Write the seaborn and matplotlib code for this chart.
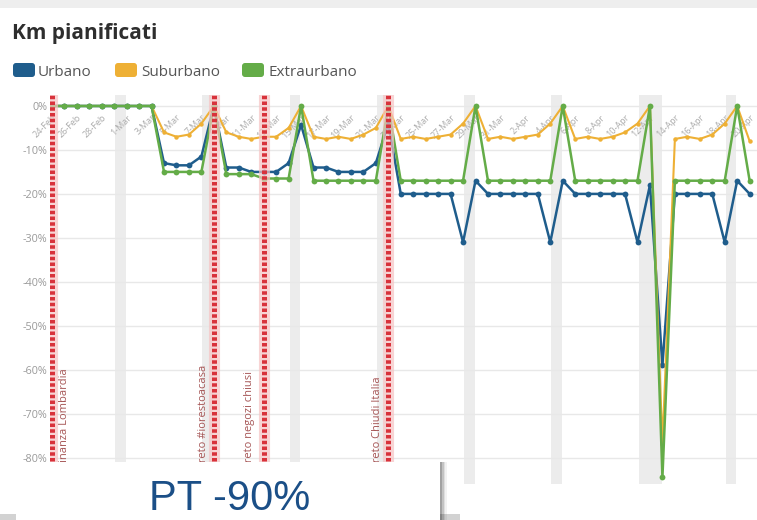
import numpy as np
import pandas as pd
import matplotlib
matplotlib.use("Agg")
import matplotlib.pyplot as plt
import seaborn as sns
from matplotlib.patches import Rectangle, FancyBboxPatch
from matplotlib.transforms import IdentityTransform

# ---------------- data ----------------
dates = pd.date_range("2020-02-24", "2020-04-20", freq="D")
series = ["Urbano", "Suburbano", "Extraurbano"]
colors = ["#1f5d8c", "#eeb035", "#64ac48"]

urbano = [0, 0, 0, 0, 0, 0, 0, 0, 0,
          -13, -13.5, -13.5, -11.5, 0,
          -14, -14, -15, -15, -15, -13, -4.3,
          -14, -14, -15, -15, -15, -13, -4,
          -20, -20, -20, -20, -20, -31, -17,
          -20, -20, -20, -20, -20, -31, -17,
          -20, -20, -20, -20, -20, -31, -18,
          -59, -20, -20, -20, -20, -31, -17,
          -20]
suburbano = [0, 0, 0, 0, 0, 0, 0, 0, 0,
             -6, -7, -6.5, -4, 0,
             -6, -7, -7.5, -7, -7, -5, 0,
             -7, -7.5, -7, -7.5, -6.5, -5, 0,
             -7.5, -7, -7.5, -7, -6.5, -4, 0,
             -7.5, -7, -7.5, -7, -6.5, -4, 0,
             -7.5, -7, -7.5, -7, -6, -4, 0,
             -77, -7.5, -7, -7.5, -6.5, -4, 0,
             -8]
extraurbano = [0, 0, 0, 0, 0, 0, 0, 0, 0,
               -15, -15, -15, -15, 0,
               -15.5, -15.5, -15.5, -16.5, -16.5, -16.5, 0,
               -17, -17, -17, -17, -17, -17, 0,
               -17, -17, -17, -17, -17, -17, 0,
               -17, -17, -17, -17, -17, -17, 0,
               -17, -17, -17, -17, -17, -17, 0,
               -84.5, -17, -17, -17, -17, -17, 0,
               -17]

y_ticks = [0, -10, -20, -30, -40, -50, -60, -70, -80]
y_tick_labels = ["0%", "-10%", "-20%", "-30%", "-40%", "-50%", "-60%", "-70%", "-80%"]

event_days = [0, 13, 17, 27]
event_labels = ["Ordinanza Lombardia", "Decreto #iorestoacasa",
                "Decreto negozi chiusi", "Decreto Chiudi Italia"]

weekend_centers = [5.5, 12.5, 19.5, 26.5, 33.5, 40.5, 54.5]
easter_span = (47.1, 49.0)

date_labels = [f"{d.day}-{d.strftime('%b')}" for d in dates]

# ---------------- figure ----------------
sns.set_style("white")
plt.rcParams["font.family"] = ["Open Sans", "DejaVu Sans"]

W, H = 757, 520
fig = plt.figure(figsize=(W / 100, H / 100), dpi=100)
fig.patch.set_facecolor("white")

ax = fig.add_axes([50 / W, 36 / H, 706.5 / W, 389 / H])

days = np.arange(len(dates))
df = pd.DataFrame({
    "giorno": np.tile(days, 3),
    "valore": urbano + suburbano + extraurbano,
    "serie": ["Urbano"] * len(days) + ["Suburbano"] * len(days) + ["Extraurbano"] * len(days),
})

# weekend bands
for c in weekend_centers:
    ax.axvspan(c - 0.42, c + 0.42, color="#ececec", zorder=0, lw=0)
ax.axvspan(*easter_span, color="#ececec", zorder=0, lw=0)

# date labels at the top, inside
for d in range(0, len(dates), 2):
    ax.text(d, -1.6, date_labels[d], rotation=45, ha="right", va="top",
            rotation_mode="anchor", fontsize=6.5, color="#ababab",
            zorder=1, clip_on=False)

sns.lineplot(data=df, x="giorno", y="valore", hue="serie", hue_order=series,
             palette=dict(zip(series, colors)), marker="o", markersize=4.2,
             markeredgewidth=0, linewidth=1.8, legend=False, ax=ax, zorder=3)
# slightly lighter, thinner orange line as in the reference
for ln in ax.get_lines():
    if matplotlib.colors.to_hex(ln.get_color()) == colors[1]:
        ln.set_linewidth(1.5)
        ln.set_markersize(3.2)

# event lines
offsets = [1.0, -0.85, -1.1, -0.9]
for d, lab, off in zip(event_days, event_labels, offsets):
    ax.axvline(d, color="#f6c3c3", lw=8, alpha=0.7, zorder=4)
    ax.axvline(d, color="#d8323b", lw=3.6, dashes=(0.7, 0.45), zorder=5)
    ax.text(d + off, -85.5, lab, rotation=90, ha="center", va="bottom",
            fontsize=8, color="#a65656", zorder=5)

ax.set_xlim(-0.15, 56.55)
ax.set_ylim(-86, 2.5)
ax.set_yticks(y_ticks)
ax.set_yticklabels(y_tick_labels)
ax.set_xticks([])
ax.set_xlabel("")
ax.set_ylabel("")
ax.tick_params(axis="y", length=0, pad=2, labelsize=7.8, labelcolor="#9a9a9a")
for s in ax.spines.values():
    s.set_visible(False)
ax.grid(axis="y", color="#e8e8e8", lw=1)
ax.set_axisbelow(True)

# ---------------- header ----------------
fig.add_artist(Rectangle((0, 1 - 8 / H), 1, 8 / H, transform=fig.transFigure,
                         fc="#eeeeee", ec="none", zorder=1))
fig.text(12 / W, 1 - 39 / H, "Km pianificati", ha="left", va="baseline",
         fontsize=15, fontweight="bold", color="#2e2e2e")

leg_items = [(13, 38, "Urbano"), (115, 141, "Suburbano"), (242, 268, "Extraurbano")]
for (x0, xt, lab), col in zip(leg_items, colors):
    fig.add_artist(FancyBboxPatch((x0, H - 77), 22, 14,
                                  boxstyle="round,pad=0,rounding_size=3",
                                  transform=IdentityTransform(), fc=col, ec="none"))
    fig.text(xt / W, 1 - 76 / H, lab, ha="left", va="baseline",
             fontsize=11, color="#555555")

# ---------------- overlay box ----------------
fig.add_artist(Rectangle((0, 0), 460 / W, 6 / H, transform=fig.transFigure,
                         fc="#d2d2d2", ec="none", zorder=18))
for i, a in enumerate([0.10, 0.16, 0.24, 0.34]):
    k = 7 - i * 1.6
    fig.add_artist(Rectangle((16 / W, 0), (424 + k) / W, 58 / H,
                             transform=fig.transFigure, fc="black", ec="none",
                             alpha=a * 0.5, zorder=19))
fig.add_artist(Rectangle((16 / W, 0), 424 / W, 58 / H, transform=fig.transFigure,
                         fc="white", ec="none", zorder=20))
fig.text(229.5 / W, 1.0 / H, "PT -90%", ha="center", va="bottom",
         fontsize=30, family=["Liberation Sans", "DejaVu Sans"],
         color="#1b4f87", zorder=21)

fig.savefig("out.png", dpi=100)
